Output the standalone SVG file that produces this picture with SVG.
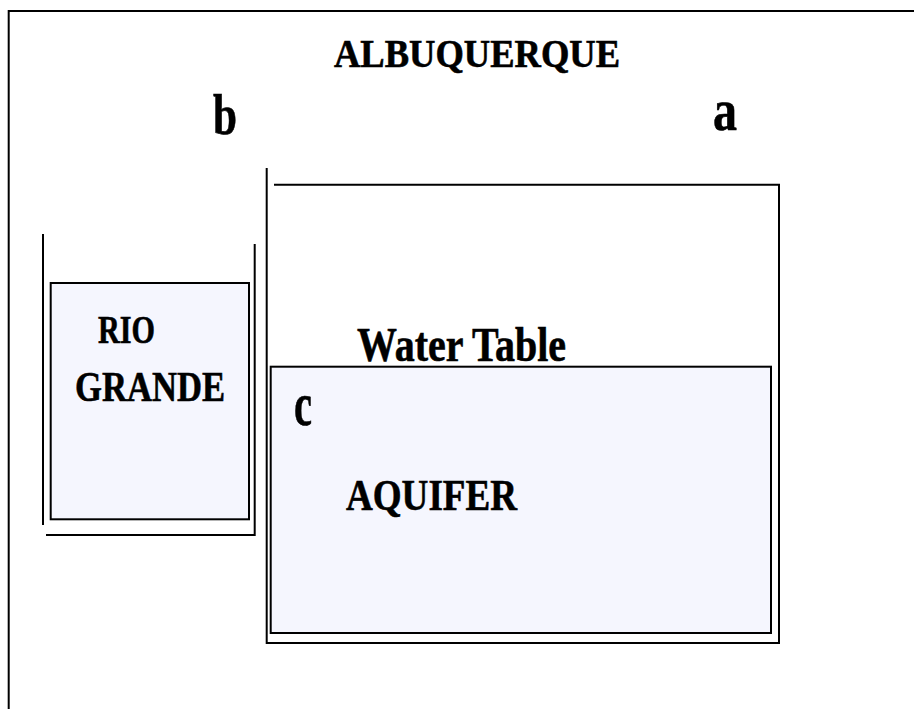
<svg xmlns="http://www.w3.org/2000/svg" width="914" height="709" viewBox="0 0 914 709">
<style>
.ln{fill:none;stroke:#000;stroke-width:2}
.box{fill:#f5f6fe;stroke:#000;stroke-width:2}
.t{font-family:"Liberation Serif","Times New Roman",serif;font-weight:bold;fill:#000;stroke:#000;stroke-width:0.6}
</style>
<rect width="914" height="709" fill="#fff"/>
<g id="frame">
<path class="ln" d="M8.7,709 V11 H914"/>
</g>
<g id="title">
<text class="t" x="334" y="67" font-size="39" textLength="286" lengthAdjust="spacingAndGlyphs">ALBUQUERQUE</text>
</g>
<g id="label-b">
<text class="t" x="213" y="134" font-size="57" textLength="24" lengthAdjust="spacingAndGlyphs">b</text>
</g>
<g id="label-a">
<text class="t" x="713" y="130" font-size="60" textLength="24" lengthAdjust="spacingAndGlyphs">a</text>
</g>
<g id="bucket-b">
<path class="ln" d="M43,234 V525"/>
<path class="ln" d="M46,535 H254.7 V244"/>
</g>
<g id="rio-grande">
<rect class="box" x="50.7" y="283" width="198.3" height="236.3"/>
<text class="t" x="98" y="342.7" font-size="40" textLength="57" lengthAdjust="spacingAndGlyphs">RIO</text>
<text class="t" x="75" y="401" font-size="42" textLength="150" lengthAdjust="spacingAndGlyphs">GRANDE</text>
</g>
<g id="bucket-a">
<path class="ln" d="M266.7,168 V643 H779 V184.7 H274"/>
<text class="t" x="357" y="361" font-size="48" textLength="209" lengthAdjust="spacingAndGlyphs">Water Table</text>
</g>
<g id="aquifer">
<rect class="box" x="270.7" y="366.7" width="500.3" height="266.3"/>
<text class="t" x="294" y="425" font-size="62" textLength="18" lengthAdjust="spacingAndGlyphs">c</text>
<text class="t" x="346" y="510" font-size="45" textLength="171" lengthAdjust="spacingAndGlyphs">AQUIFER</text>
</g>
<g id="connectors"></g>
</svg>
